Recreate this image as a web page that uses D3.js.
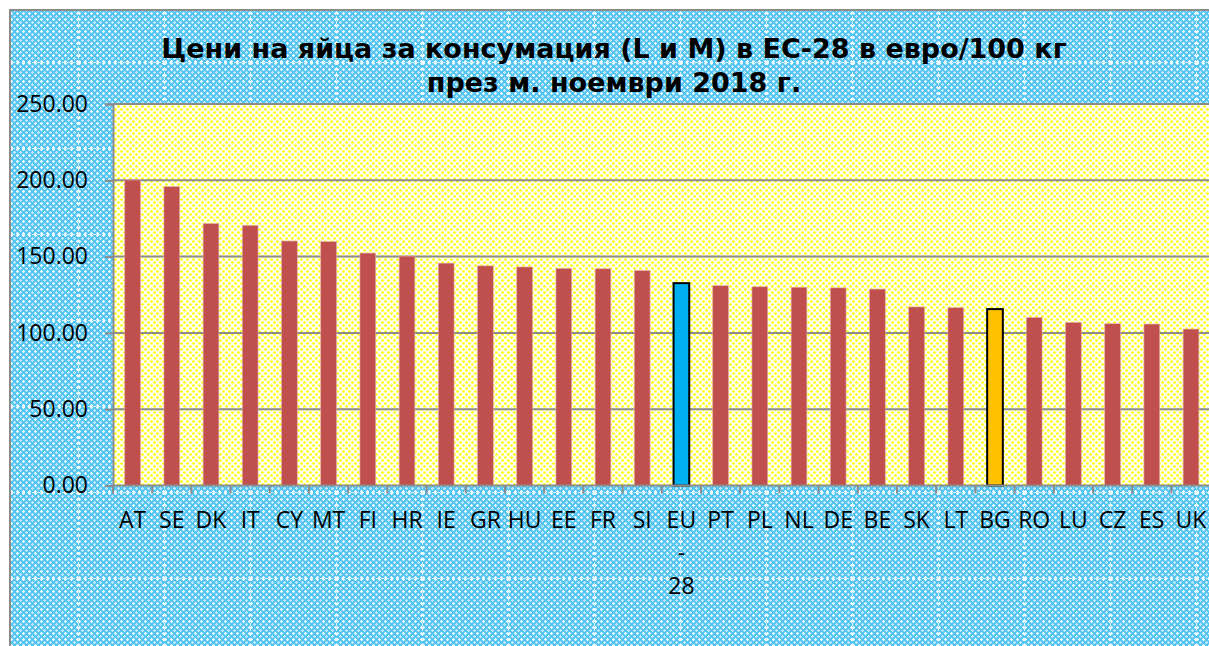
<!DOCTYPE html>
<html>
<head>
<meta charset="utf-8">
<title>Цени на яйца</title>
<style>
  body { margin: 0; background: #fff; }
  svg { display: block; }
  .tickLabel { font-family: "Open Sans", sans-serif; font-size: 23px; fill: #000; }
  .title { font-family: "DejaVu Sans", Verdana, sans-serif; font-weight: bold; font-size: 27px; fill: #000; }
</style>
</head>
<body>
<div id="chart"></div>
<script src="https://cdn.jsdelivr.net/npm/d3@7"></script>
<script>
// data
const countries = ["AT","SE","DK","IT","CY","MT","FI","HR","IE","GR","HU","EE","FR","SI",
  "EU-28","PT","PL","NL","DE","BE","SK","LT","BG","RO","LU","CZ","ES","UK"];
const prices = [200.2, 195.8, 171.6, 170.4, 160.2, 159.8, 152.3, 150.3, 145.7, 143.9, 143.2, 142.2, 142.0, 140.8,
  132.6, 130.9, 130.2, 129.9, 129.5, 128.7, 117.0, 116.5, 115.6, 110.0, 106.8, 106.0, 105.8, 102.5];
const yTicks = [0, 50, 100, 150, 200, 250];
const titleLines = ["Цени на яйца за консумация (L и M) в ЕС-28 в евро/100 кг", "през м. ноември 2018 г."];
const highlight = { "EU-28": "#00b0f0", "BG": "#ffc000" };

const W = 1209, H = 646;
const plot = { left: 113, top: 104, bottom: 485.5, step: 39.2 };

const svg = d3.select("#chart").append("svg")
  .attr("width", W).attr("height", H);

//******* patterns for the two fills *******
const defs = svg.append("defs");

// small blue motif: white crosses on a checker
const bp = defs.append("pattern").attr("id", "blueDots")
  .attr("patternUnits", "userSpaceOnUse").attr("width", 6).attr("height", 6);
bp.append("rect").attr("width", 6).attr("height", 6).attr("fill", "#52c4f2");
[[1.5, 1.5], [4.5, 4.5]].forEach(function(p, k) {
  bp.append("rect").attr("x", p[0] - 1.5).attr("y", p[1] - 0.5).attr("width", 3).attr("height", 1).attr("fill", "#ffffff");
  bp.append("rect").attr("x", p[0] - 0.5).attr("y", p[1] - 1.5).attr("width", 1).attr("height", 3).attr("fill", "#ffffff");
  bp.append("rect").attr("x", p[0] - 1).attr("y", p[1] - 1).attr("width", 2).attr("height", 2)
    .attr("fill", k === 0 ? "#e6f7fe" : "#a6def8");
});

// big tile with faint dashed seams
const bt = defs.append("pattern").attr("id", "blueTile")
  .attr("patternUnits", "userSpaceOnUse").attr("width", 86).attr("height", 86)
  .attr("x", 78).attr("y", 62);
bt.append("rect").attr("width", 86).attr("height", 86).attr("fill", "url(#blueDots)");
bt.append("line").attr("x1", 0.5).attr("x2", 0.5).attr("y1", 0).attr("y2", 86)
  .attr("stroke", "#ffffff").attr("stroke-width", 1).attr("stroke-dasharray", "3,2").attr("opacity", 0.8);
bt.append("line").attr("y1", 0.5).attr("y2", 0.5).attr("x1", 0).attr("x2", 86)
  .attr("stroke", "#ffffff").attr("stroke-width", 1).attr("stroke-dasharray", "3,2").attr("opacity", 0.8);

// yellow dotted
const yp = defs.append("pattern").attr("id", "yellowDots")
  .attr("patternUnits", "userSpaceOnUse").attr("width", 6).attr("height", 6);
yp.append("rect").attr("width", 6).attr("height", 6).attr("fill", "#fffff4");
[[1.5, 1.5], [4.5, 4.5]].forEach(function(p) {
  yp.append("circle").attr("cx", p[0]).attr("cy", p[1]).attr("r", 1.35).attr("fill", "#ffff00");
});

//******* chart area background + border *******
svg.append("rect")
  .attr("x", 10).attr("y", 10).attr("width", W).attr("height", H)
  .attr("fill", "url(#blueTile)")
  .attr("stroke", "#8c8c8c").attr("stroke-width", 2);

//******* scales *******
const x = d3.scaleBand()
  .domain(countries)
  .range([plot.left, plot.left + plot.step * countries.length])
  .paddingInner(0.6).paddingOuter(0.3);
const y = d3.scaleLinear()
  .domain([0, 250])
  .range([plot.bottom, plot.top]);

// plot area
svg.append("rect")
  .attr("x", plot.left).attr("y", y(250))
  .attr("width", W - plot.left).attr("height", y(0) - y(250))
  .attr("fill", "url(#yellowDots)");

// gridlines
svg.append("g").selectAll("line")
  .data(yTicks.filter(function(d) { return d > 0; }))
  .join("line")
  .attr("x1", plot.left).attr("x2", W)
  .attr("y1", function(d) { return y(d); }).attr("y2", function(d) { return y(d); })
  .attr("stroke", "#8c8c8c").attr("stroke-width", 2);

//******* bars *******
svg.append("g").selectAll("rect")
  .data(countries)
  .join("rect")
  .attr("x", function(d) { return x(d); })
  .attr("width", x.bandwidth())
  .attr("y", function(d, i) { return y(prices[i]); })
  .attr("height", function(d, i) { return y(0) - y(prices[i]); })
  .attr("fill", function(d) { return highlight[d] || "#c0504d"; })
  .attr("stroke", function(d) { return highlight[d] ? "#000000" : "#e6a5a3"; })
  .attr("stroke-width", function(d) { return highlight[d] ? 2 : 0.6; });

//******* y axis *******
const yAxis = svg.append("g")
  .attr("transform", `translate(${plot.left},0)`)
  .call(d3.axisLeft(y).tickValues(yTicks).tickFormat(d3.format(".2f")).tickSize(8).tickPadding(17));
yAxis.select(".domain").attr("stroke", "#8c8c8c").attr("stroke-width", 2);
yAxis.selectAll(".tick line").attr("stroke", "#8c8c8c").attr("stroke-width", 2);
yAxis.selectAll(".tick text").attr("class", "tickLabel").attr("font-family", null).attr("font-size", null);

//******* x axis *******
svg.append("line")
  .attr("x1", plot.left).attr("x2", W)
  .attr("y1", y(0)).attr("y2", y(0))
  .attr("stroke", "#8c8c8c").attr("stroke-width", 2);

// tick marks at the band edges
svg.append("g").selectAll("line")
  .data(countries)
  .join("line")
  .attr("x1", function(d) { return x(d) - x.step() * x.paddingOuter(); })
  .attr("x2", function(d) { return x(d) - x.step() * x.paddingOuter(); })
  .attr("y1", y(0)).attr("y2", y(0) + 8)
  .attr("stroke", "#8c8c8c").attr("stroke-width", 2);

// labels, "EU-28" wraps over three lines
const xl = svg.append("g").selectAll("text")
  .data(countries)
  .join("text")
  .attr("class", "tickLabel")
  .attr("text-anchor", "middle")
  .attr("x", function(d) { return x(d) + x.bandwidth() / 2; })
  .attr("y", y(0) + 42);
xl.each(function(d) {
  const parts = d.indexOf("-") >= 0 ? [d.split("-")[0], "-", d.split("-")[1]] : [d];
  d3.select(this).selectAll("tspan")
    .data(parts)
    .join("tspan")
    .attr("x", x(d) + x.bandwidth() / 2)
    .attr("dy", function(p, i) { return i === 0 ? 0 : 33; })
    .text(function(p) { return p; });
});

//******* title *******
svg.append("text")
  .attr("class", "title")
  .attr("text-anchor", "middle")
  .selectAll("tspan")
  .data(titleLines)
  .join("tspan")
  .attr("x", 614)
  .attr("y", function(d, i) { return 58 + i * 34; })
  .text(function(d) { return d; });
</script>
</body>
</html>
